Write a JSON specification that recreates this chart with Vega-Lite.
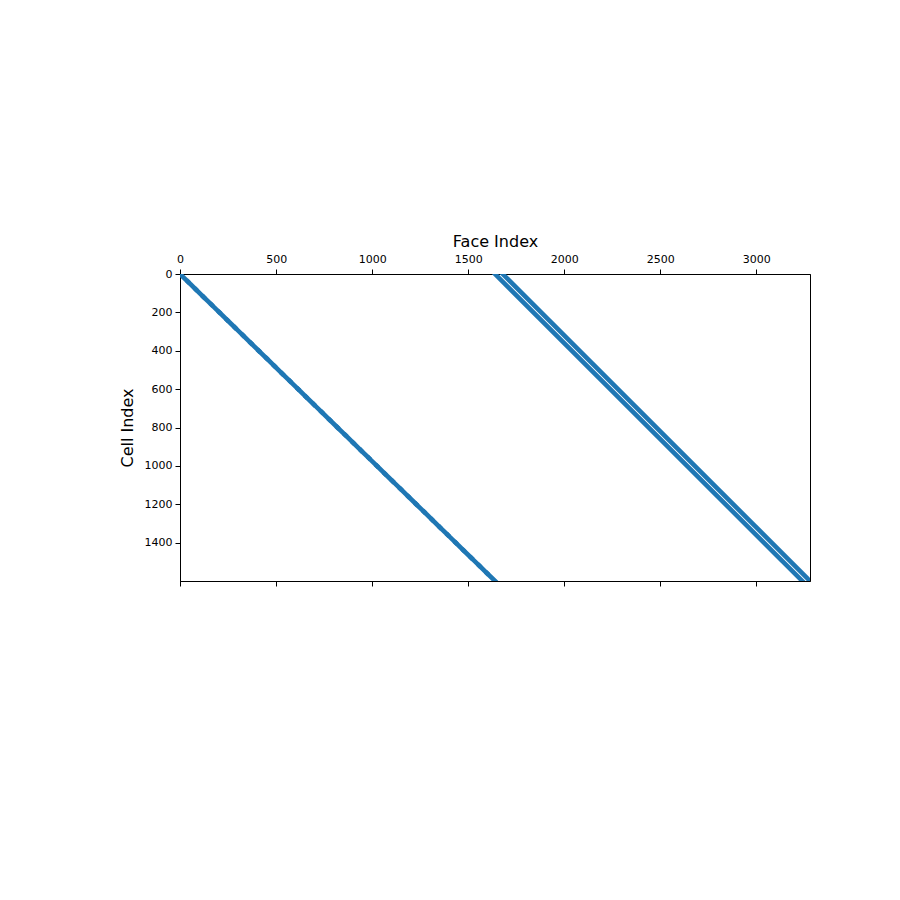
{
  "$schema": "https://vega.github.io/schema/vega-lite/v6.json",
  "autosize": "none",
  "width": 630,
  "height": 307,
  "padding": {"left": 180, "top": 274, "right": 90, "bottom": 319},
  "background": "white",
  "config": {
    "font": "DejaVu Sans",
    "view": {"stroke": "black", "strokeWidth": 1},
    "axis": {
      "domainColor": "black",
      "tickColor": "black",
      "labelColor": "black",
      "titleColor": "black",
      "labelFontSize": 11,
      "titleFontSize": 16,
      "titleFontWeight": "normal",
      "tickSize": 5,
      "labelPadding": 3,
      "labelFlush": false,
      "format": "d",
      "grid": false
    }
  },
  "datasets": {
    "band1": [
      {"cell0": 0, "cell1": 39, "face0": 0, "face1": 40},
      {"cell0": 40, "cell1": 79, "face0": 41, "face1": 81},
      {"cell0": 80, "cell1": 119, "face0": 82, "face1": 122},
      {"cell0": 120, "cell1": 159, "face0": 123, "face1": 163},
      {"cell0": 160, "cell1": 199, "face0": 164, "face1": 204},
      {"cell0": 200, "cell1": 239, "face0": 205, "face1": 245},
      {"cell0": 240, "cell1": 279, "face0": 246, "face1": 286},
      {"cell0": 280, "cell1": 319, "face0": 287, "face1": 327},
      {"cell0": 320, "cell1": 359, "face0": 328, "face1": 368},
      {"cell0": 360, "cell1": 399, "face0": 369, "face1": 409},
      {"cell0": 400, "cell1": 439, "face0": 410, "face1": 450},
      {"cell0": 440, "cell1": 479, "face0": 451, "face1": 491},
      {"cell0": 480, "cell1": 519, "face0": 492, "face1": 532},
      {"cell0": 520, "cell1": 559, "face0": 533, "face1": 573},
      {"cell0": 560, "cell1": 599, "face0": 574, "face1": 614},
      {"cell0": 600, "cell1": 639, "face0": 615, "face1": 655},
      {"cell0": 640, "cell1": 679, "face0": 656, "face1": 696},
      {"cell0": 680, "cell1": 719, "face0": 697, "face1": 737},
      {"cell0": 720, "cell1": 759, "face0": 738, "face1": 778},
      {"cell0": 760, "cell1": 799, "face0": 779, "face1": 819},
      {"cell0": 800, "cell1": 839, "face0": 820, "face1": 860},
      {"cell0": 840, "cell1": 879, "face0": 861, "face1": 901},
      {"cell0": 880, "cell1": 919, "face0": 902, "face1": 942},
      {"cell0": 920, "cell1": 959, "face0": 943, "face1": 983},
      {"cell0": 960, "cell1": 999, "face0": 984, "face1": 1024},
      {"cell0": 1000, "cell1": 1039, "face0": 1025, "face1": 1065},
      {"cell0": 1040, "cell1": 1079, "face0": 1066, "face1": 1106},
      {"cell0": 1080, "cell1": 1119, "face0": 1107, "face1": 1147},
      {"cell0": 1120, "cell1": 1159, "face0": 1148, "face1": 1188},
      {"cell0": 1160, "cell1": 1199, "face0": 1189, "face1": 1229},
      {"cell0": 1200, "cell1": 1239, "face0": 1230, "face1": 1270},
      {"cell0": 1240, "cell1": 1279, "face0": 1271, "face1": 1311},
      {"cell0": 1280, "cell1": 1319, "face0": 1312, "face1": 1352},
      {"cell0": 1320, "cell1": 1359, "face0": 1353, "face1": 1393},
      {"cell0": 1360, "cell1": 1399, "face0": 1394, "face1": 1434},
      {"cell0": 1400, "cell1": 1439, "face0": 1435, "face1": 1475},
      {"cell0": 1440, "cell1": 1479, "face0": 1476, "face1": 1516},
      {"cell0": 1480, "cell1": 1519, "face0": 1517, "face1": 1557},
      {"cell0": 1520, "cell1": 1559, "face0": 1558, "face1": 1598},
      {"cell0": 1560, "cell1": 1599, "face0": 1599, "face1": 1639}
    ],
    "band2": [
      {"cell0": 0, "cell1": 1599, "face0": 1640, "face1": 3239},
      {"cell0": 0, "cell1": 1599, "face0": 1680, "face1": 3279}
    ]
  },
  "layer": [
    {
      "data": {"name": "band1"},
      "mark": {"type": "rule", "color": "#1f77b4", "strokeWidth": 4.6, "strokeCap": "square", "clip": true},
      "encoding": {
        "x": {
          "field": "face0", "type": "quantitative",
          "scale": {"domain": [-0.5, 3279.5], "nice": false, "zero": false},
          "axis": {"orient": "top", "title": "Face Index", "values": [0, 500, 1000, 1500, 2000, 2500, 3000], "titlePadding": 4, "labelPadding": 5}
        },
        "x2": {"field": "face1"},
        "y": {
          "field": "cell0", "type": "quantitative",
          "scale": {"domain": [-0.5, 1599.5], "nice": false, "zero": false, "reverse": true},
          "axis": {"orient": "left", "title": "Cell Index", "values": [0, 200, 400, 600, 800, 1000, 1200, 1400], "titlePadding": 9}
        },
        "y2": {"field": "cell1"}
      }
    },
    {
      "data": {"name": "band2"},
      "mark": {"type": "rule", "color": "#1f77b4", "strokeWidth": 4.6, "strokeCap": "square", "clip": true},
      "encoding": {
        "x": {
          "field": "face0", "type": "quantitative",
          "scale": {"domain": [-0.5, 3279.5], "nice": false, "zero": false},
          "axis": {"orient": "bottom", "title": null, "labels": false, "values": [0, 500, 1000, 1500, 2000, 2500, 3000]}
        },
        "x2": {"field": "face1"},
        "y": {
          "field": "cell0", "type": "quantitative",
          "scale": {"domain": [-0.5, 1599.5], "nice": false, "zero": false, "reverse": true},
          "axis": null
        },
        "y2": {"field": "cell1"}
      }
    }
  ],
  "resolve": {"axis": {"x": "independent", "y": "independent"}}
}
